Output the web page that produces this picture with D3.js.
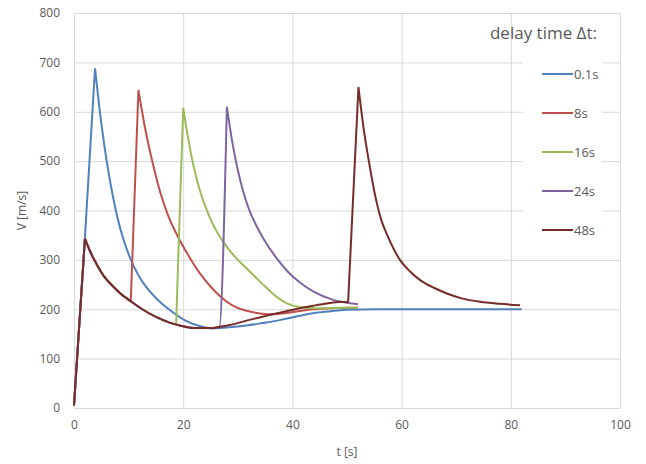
<!DOCTYPE html>
<html>
<head>
<meta charset="utf-8">
<script src="https://cdn.jsdelivr.net/npm/d3@7"></script>
<style>
    body { margin: 0; background: #fff; }
    svg { display: block; }
    .grid line { stroke: #d9d9d9; stroke-width: 1; }
    .tick text, .label { font-family: "Open Sans", sans-serif; fill: #595959; }
</style>
</head>
<body>
<svg width="646" height="464"></svg>
<script>
var names = ["0.1s", "8s", "16s", "24s", "48s"];
var colors = ["#4f81bd", "#c0504d", "#9bbb59", "#8064a2", "#772c2a"];

var xTicks = [0, 20, 40, 60, 80, 100];
var yTicks = [0, 100, 200, 300, 400, 500, 600, 700, 800];

// delay 0.1s
var t01 = [0, 2, 3.85, 5, 6, 7.1, 8.5, 10.3, 12, 13.9, 15.8, 17.6, 20.6, 23, 25, 28, 31.6, 34.5, 37.7, 40.5, 43.8, 47, 50, 55, 65, 75, 82];
var v01 = [5, 345, 688, 577, 499, 430, 362, 303, 265, 236, 214, 198, 176, 166, 161, 163, 167, 172, 178, 185, 192, 196, 199, 200, 200, 200, 200];

// delay 8s
var t8 = [0, 2, 3, 4, 5.4, 7, 8.5, 10.4, 11.8, 13, 14.5, 15.9, 17.3, 18.8, 20.9, 23.1, 25, 26.7, 29, 31.6, 35.3, 37.7, 40.5, 43.8, 47, 50, 52];
var v8 = [5, 343, 316, 294, 268, 248, 232, 216, 644, 568, 492, 433, 388, 352, 310, 272, 246, 227, 208, 197, 190, 191, 195, 200, 202, 203, 203];

// delay 16s
var t16 = [0, 2, 3, 4, 5.4, 7, 8.5, 10.3, 12.5, 15.1, 17.5, 18.7, 20, 21, 22, 23, 24, 25.5, 27.3, 29.5, 31.6, 33.5, 35.3, 37, 39, 41, 44, 47, 50, 52];
var v16 = [5, 343, 316, 294, 268, 248, 232, 217, 200, 184, 173, 169, 608, 540, 485, 443, 410, 371, 337, 306, 283, 262, 243, 226, 212, 205, 202, 202, 203, 203];

// delay 24s
var t24 = [0, 2, 3, 4, 5.4, 7, 8.5, 10.3, 12.5, 15.1, 17.5, 19.4, 22, 25.5, 26.6, 28, 29, 30, 31, 32, 33.5, 34.7, 37, 39, 41.5, 43.8, 47.5, 50, 52];
var v24 = [5, 343, 316, 294, 268, 248, 232, 217, 200, 184, 173, 167, 162, 162, 163, 610, 538, 482, 438, 404, 367, 343, 305, 278, 253, 236, 219, 213, 210];

// delay 48s
var t48 = [0, 2, 3, 4, 5.4, 7, 8.5, 10.3, 12.5, 15.1, 17.5, 19.4, 22, 25.5, 28.5, 31.6, 34.5, 37.7, 40.5, 43.8, 46.5, 48.7, 50.2, 52.1, 53, 54, 55.4, 56.3, 57.3, 59.7, 61.5, 63.4, 66, 68.3, 71, 74.4, 78, 81.7];
var v48 = [5, 343, 316, 294, 268, 248, 232, 217, 200, 184, 173, 167, 162, 162, 168, 177, 185, 193, 200, 207, 212, 215, 214, 650, 570, 500, 418, 380, 352, 300, 277, 259, 243, 232, 222, 215, 211, 208];

var times = [t01, t8, t16, t24, t48];
var values = [v01, v8, v16, v24, v48];

var svg = d3.select("svg"),
    margin = { top: 13, right: 26, bottom: 56, left: 74 },
    width = +svg.attr("width") - margin.left - margin.right,
    height = +svg.attr("height") - margin.top - margin.bottom;

var g = svg.append("g")
    .attr("transform", "translate(" + margin.left + "," + margin.top + ")");

var x = d3.scaleLinear().domain([0, 100]).range([0, width]);
var y = d3.scaleLinear().domain([0, 800]).range([height, 0]);

// gridlines
g.append("g")
    .attr("class", "grid")
    .call(d3.axisLeft(y).tickValues(yTicks).tickSize(-width).tickFormat(""))
    .call(function(a) { a.select(".domain").remove(); });

g.append("g")
    .attr("class", "grid")
    .attr("transform", "translate(0," + height + ")")
    .call(d3.axisBottom(x).tickValues(xTicks).tickSize(-height).tickFormat(""))
    .call(function(a) { a.select(".domain").remove(); });

// tick labels
g.append("g")
    .call(d3.axisLeft(y).tickValues(yTicks).tickSize(0).tickPadding(14))
    .call(function(a) {
        a.select(".domain").remove();
        a.selectAll("text").style("font-size", "12px");
    });

g.append("g")
    .attr("transform", "translate(0," + height + ")")
    .call(d3.axisBottom(x).tickValues(xTicks).tickSize(0).tickPadding(12))
    .call(function(a) {
        a.select(".domain").remove();
        a.selectAll("text").style("font-size", "12px");
    });

// axis titles
svg.append("text")
    .attr("class", "label")
    .attr("transform", "translate(26," + (margin.top + height / 2) + ") rotate(-90)")
    .attr("text-anchor", "middle")
    .style("font-size", "12px")
    .text("V [m/s]");

svg.append("text")
    .attr("class", "label")
    .attr("x", margin.left + width / 2)
    .attr("y", 456)
    .attr("text-anchor", "middle")
    .style("font-size", "12px")
    .text("t [s]");

// series: smooth between turning points, sharp at peaks and jumps
var line = d3.line()
    .curve(d3.curveMonotoneX)
    .x(function(d) { return x(d[0]); })
    .y(function(d) { return y(d[1]); });

function pieces(pts) {
    var out = [], cur = [pts[0]], dir = 0;
    for (var j = 1; j < pts.length; j++) {
        var s = Math.sign(pts[j][1] - pts[j - 1][1]);
        if (dir !== 0 && s !== 0 && s !== dir) {
            out.push(cur);
            cur = [pts[j - 1]];
        }
        if (s !== 0) dir = s;
        cur.push(pts[j]);
    }
    out.push(cur);
    return out.map(line).join("");
}

names.forEach(function(name, i) {
    var pts = times[i].map(function(t, j) { return [t, values[i][j]]; });
    g.append("path")
        .attr("fill", "none")
        .attr("stroke", colors[i])
        .attr("stroke-width", 2)
        .attr("stroke-linejoin", "round")
        .attr("d", pieces(pts));
});

// legend
svg.append("rect")
    .attr("x", 523)
    .attr("y", 52)
    .attr("width", 79)
    .attr("height", 193)
    .attr("fill", "#fff");

svg.append("text")
    .attr("class", "label")
    .attr("x", 597)
    .attr("y", 39)
    .attr("text-anchor", "end")
    .style("font-size", "17px")
    .text("delay time \u0394t:");

var legend = svg.selectAll(".legend")
    .data(names)
    .enter().append("g")
    .attr("class", "legend")
    .attr("transform", function(d, i) { return "translate(542," + (74 + i * 39) + ")"; });

legend.append("line")
    .attr("x1", 0)
    .attr("x2", 31)
    .attr("stroke", function(d, i) { return colors[i]; })
    .attr("stroke-width", 2);

legend.append("text")
    .attr("class", "label")
    .attr("x", 32)
    .attr("dy", "0.35em")
    .style("font-size", "13px")
    .text(function(d) { return d; });
</script>
</body>
</html>
